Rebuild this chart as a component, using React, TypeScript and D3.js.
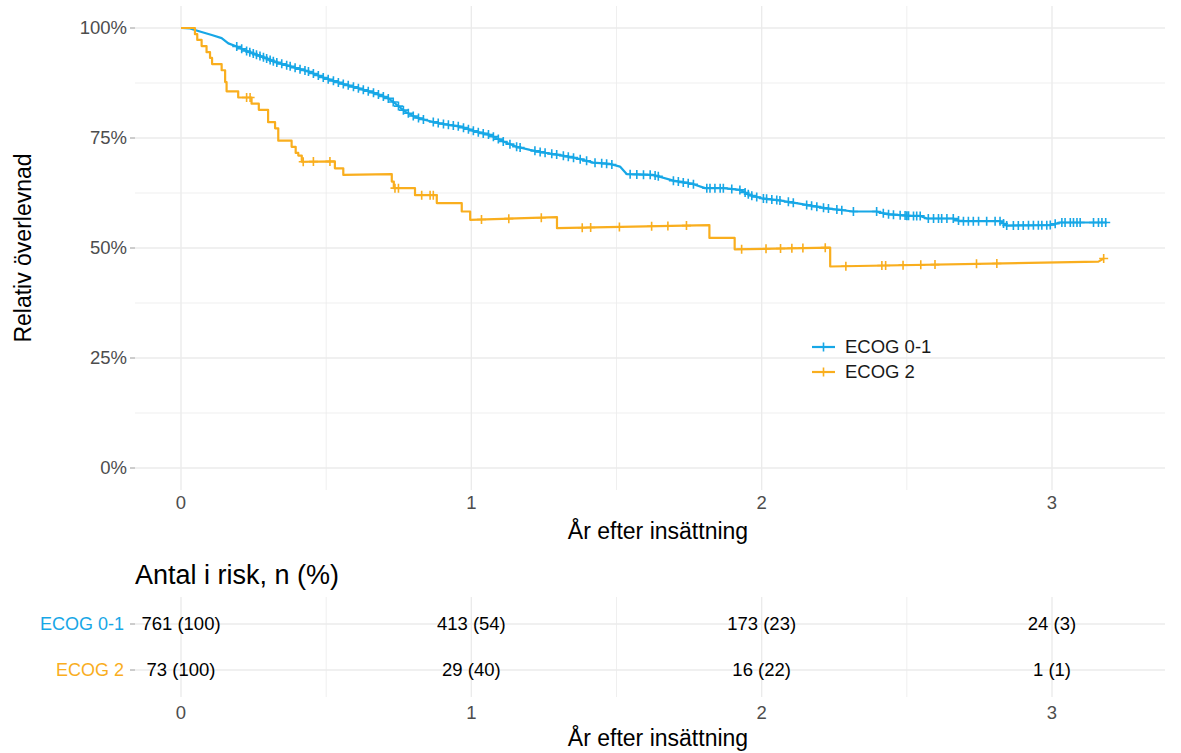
import React from "react";
import * as d3 from "d3";

// ---------- DATA ----------
const groups = ["ECOG 0-1", "ECOG 2"];
const groupColors = ["#17a7e6", "#f9ae1e"];

// ECOG 0-1 relative survival curve vertices (years, %)
const ecog01Time = [0, 0.031, 0.065, 0.106, 0.14, 0.163, 0.192, 0.232, 0.278, 0.324, 0.381, 0.439, 0.496, 0.553, 0.611, 0.668, 0.714, 0.737, 0.772, 0.806, 0.841, 0.892, 0.961, 1.018, 1.064, 1.11, 1.156, 1.202, 1.248, 1.306, 1.363, 1.42, 1.478, 1.512, 1.535, 1.627, 1.696, 1.765, 1.805, 1.868, 1.926, 1.96, 2.0, 2.063, 2.109, 2.155, 2.224, 2.316, 2.396, 2.431, 2.511, 2.546, 2.569, 2.66, 2.683, 2.821, 2.844, 2.993, 3.028, 3.189];
const ecog01Surv = [100, 99.9, 99.2, 98.4, 97.7, 96.5, 95.8, 94.6, 93.5, 92.3, 91.2, 90.1, 88.6, 87.4, 86.3, 85.2, 84.0, 82.9, 81.0, 79.8, 79.1, 78.3, 77.6, 76.4, 75.7, 74.2, 73.0, 72.3, 71.7, 71.1, 70.4, 69.4, 69.1, 68.5, 66.8, 66.6, 65.3, 64.5, 63.6, 63.6, 63.2, 62.0, 61.3, 60.8, 60.3, 59.8, 59.0, 58.3, 58.3, 57.7, 57.3, 57.3, 56.7, 56.7, 56.1, 56.1, 55.1, 55.2, 55.8, 55.8];
const ecog01Censor = [0.192, 0.209, 0.226, 0.237, 0.249, 0.26, 0.272, 0.284, 0.295, 0.307, 0.318, 0.33, 0.347, 0.364, 0.376, 0.393, 0.41, 0.427, 0.439, 0.456, 0.473, 0.49, 0.507, 0.525, 0.542, 0.559, 0.576, 0.594, 0.611, 0.628, 0.645, 0.663, 0.68, 0.697, 0.714, 0.731, 0.749, 0.766, 0.783, 0.8, 0.818, 0.835, 0.869, 0.886, 0.904, 0.921, 0.938, 0.955, 0.973, 0.99, 1.007, 1.024, 1.041, 1.059, 1.076, 1.093, 1.11, 1.133, 1.156, 1.168, 1.219, 1.237, 1.254, 1.277, 1.294, 1.317, 1.334, 1.352, 1.375, 1.397, 1.426, 1.449, 1.466, 1.484, 1.547, 1.57, 1.593, 1.616, 1.633, 1.644, 1.696, 1.713, 1.73, 1.747, 1.765, 1.811, 1.822, 1.839, 1.857, 1.868, 1.897, 1.925, 1.943, 1.954, 1.966, 1.983, 2.006, 2.017, 2.035, 2.052, 2.063, 2.092, 2.109, 2.155, 2.172, 2.19, 2.213, 2.23, 2.259, 2.276, 2.316, 2.396, 2.419, 2.437, 2.454, 2.477, 2.5, 2.494, 2.506, 2.523, 2.534, 2.546, 2.574, 2.592, 2.609, 2.62, 2.638, 2.66, 2.678, 2.695, 2.712, 2.729, 2.747, 2.775, 2.804, 2.821, 2.833, 2.844, 2.867, 2.884, 2.901, 2.919, 2.936, 2.953, 2.965, 2.982, 2.994, 3.011, 3.034, 3.045, 3.063, 3.074, 3.086, 3.097, 3.143, 3.16, 3.172, 3.185];

// ECOG 2 relative survival curve vertices (years, %)
const ecog2Time = [0, 0.048, 0.048, 0.056, 0.056, 0.071, 0.071, 0.088, 0.088, 0.1, 0.1, 0.107, 0.107, 0.14, 0.14, 0.152, 0.152, 0.157, 0.157, 0.197, 0.197, 0.243, 0.243, 0.268, 0.268, 0.3, 0.3, 0.324, 0.324, 0.335, 0.335, 0.381, 0.381, 0.395, 0.395, 0.404, 0.404, 0.416, 0.416, 0.53, 0.53, 0.559, 0.559, 0.726, 0.726, 0.733, 0.733, 0.806, 0.806, 0.881, 0.881, 0.967, 0.967, 0.996, 0.996, 1.295, 1.295, 1.82, 1.82, 1.907, 1.907, 2.236, 2.236, 3.16, 3.178];
const ecog2Surv = [100, 100, 98.6, 98.6, 97.3, 97.3, 95.9, 95.9, 94.5, 94.5, 93.2, 93.2, 91.8, 91.8, 90.4, 90.4, 87.7, 87.7, 85.6, 85.6, 84.2, 84.2, 82.8, 82.8, 81.4, 81.4, 78.6, 78.6, 77.2, 77.2, 74.4, 74.4, 73.0, 73.0, 71.6, 71.6, 71.0, 71.0, 69.6, 69.7, 68.1, 68.1, 66.6, 66.8, 65.1, 65.1, 63.6, 63.6, 62.0, 62.0, 60.2, 60.2, 58.3, 58.3, 56.4, 57.0, 54.5, 55.2, 52.3, 52.3, 49.7, 50.1, 45.8, 46.9, 47.6];
const ecog2Censor = [0.226, 0.238, 0.421, 0.456, 0.513, 0.737, 0.749, 0.829, 0.858, 0.869, 1.035, 1.129, 1.241, 1.382, 1.411, 1.51, 1.621, 1.677, 1.741, 1.931, 2.015, 2.065, 2.104, 2.142, 2.219, 2.29, 2.414, 2.427, 2.487, 2.548, 2.597, 2.74, 2.81, 3.178];

// Risk table
const riskTimes = [0, 1, 2, 3];
const ecog01Risk = ["761 (100)", "413 (54)", "173 (23)", "24 (3)"];
const ecog2Risk = ["73 (100)", "29 (40)", "16 (22)", "1 (1)"];

const xTicks = [0, 1, 2, 3];
const xMinor = [0.5, 1.5, 2.5];
const yTicks = [0, 25, 50, 75, 100];
const yMinor = [12.5, 37.5, 62.5, 87.5];

const W = 1181;
const H = 753;
const FONT = "'Liberation Sans', Arial, Helvetica, sans-serif";

function valueAt(times: number[], vals: number[], t: number): number {
  let i = 0;
  for (let k = 0; k < times.length; k++) {
    if (times[k] <= t) i = k;
  }
  if (i >= times.length - 1) return vals[vals.length - 1];
  const t0 = times[i], t1 = times[i + 1];
  if (t1 <= t0) return vals[i + 1];
  const f = (t - t0) / (t1 - t0);
  return vals[i] + f * (vals[i + 1] - vals[i]);
}

export default function App() {
  const panelL = 135, panelR = 1165;
  const x = d3.scaleLinear().domain([0, 3]).range([181, 1052]);
  const y = d3.scaleLinear().domain([0, 100]).range([468, 28]);
  const mainTop = 6, mainBot = 490;
  const tabTop = 597, tabBot = 697;
  const rowY = d3.scalePoint<string>().domain(groups).range([624, 670]);

  const line = d3.line<[number, number]>().x((d) => x(d[0])).y((d) => y(d[1]));
  const curves = [
    { t: ecog01Time, s: ecog01Surv, c: ecog01Censor },
    { t: ecog2Time, s: ecog2Surv, c: ecog2Censor },
  ];
  const gridColor = "#ebebeb";
  const plus = (cx: number, cy: number, r: number) =>
    `M${cx - r},${cy}H${cx + r}M${cx},${cy - r}V${cy + r}`;

  return (
    <svg width={W} height={H} style={{ position: "absolute", left: 0, top: 0, background: "#fff" }} fontFamily={FONT}>
      {/* main grid */}
      {yMinor.map((v) => (
        <line key={"ym" + v} x1={panelL} x2={panelR} y1={y(v)} y2={y(v)} stroke={gridColor} strokeWidth={0.8} />
      ))}
      {xMinor.map((v) => (
        <line key={"xm" + v} x1={x(v)} x2={x(v)} y1={mainTop} y2={mainBot} stroke={gridColor} strokeWidth={0.8} />
      ))}
      {yTicks.map((v) => (
        <line key={"yg" + v} x1={panelL} x2={panelR} y1={y(v)} y2={y(v)} stroke={gridColor} strokeWidth={1.4} />
      ))}
      {xTicks.map((v) => (
        <line key={"xg" + v} x1={x(v)} x2={x(v)} y1={mainTop} y2={mainBot} stroke={gridColor} strokeWidth={1.4} />
      ))}
      {/* y ticks + labels */}
      {yTicks.map((v) => (
        <g key={"yt" + v}>
          <line x1={130} x2={panelL} y1={y(v)} y2={y(v)} stroke="#9a9a9a" strokeWidth={1} />
          <text x={127} y={y(v)} dy="0.35em" textAnchor="end" fontSize={18.5} fill="#4d4d4d">
            {v + "%"}
          </text>
        </g>
      ))}
      {/* x tick labels */}
      {xTicks.map((v) => (
        <text key={"xt" + v} x={x(v)} y={503} dy="0.35em" textAnchor="middle" fontSize={18.5} fill="#4d4d4d">
          {v}
        </text>
      ))}
      <text x={658} y={531} dy="0.35em" textAnchor="middle" fontSize={23} fill="#000">
        År efter insättning
      </text>
      <text transform={`translate(23,248) rotate(-90)`} dy="0.35em" textAnchor="middle" fontSize={23} fill="#000">
        Relativ överlevnad
      </text>

      {/* curves */}
      {curves.map((cv, gi) => (
        <g key={"c" + gi}>
          <path
            d={line(cv.t.map((t, i) => [t, cv.s[i]] as [number, number])) || ""}
            fill="none"
            stroke={groupColors[gi]}
            strokeWidth={2.2}
            strokeLinejoin="round"
          />
          <path
            d={cv.c.map((t) => plus(x(t), y(valueAt(cv.t, cv.s, t)), 4.5)).join("")}
            fill="none"
            stroke={groupColors[gi]}
            strokeWidth={1.6}
          />
        </g>
      ))}

      {/* legend */}
      {groups.map((g, gi) => {
        const ly = 347 + gi * 25;
        return (
          <g key={"lg" + g}>
            <line x1={812} x2={835} y1={ly} y2={ly} stroke={groupColors[gi]} strokeWidth={2.2} />
            <path d={plus(823.5, ly, 4.5)} stroke={groupColors[gi]} strokeWidth={1.6} />
            <text x={845} y={ly} dy="0.35em" fontSize={18.5} fill="#1a1a1a">
              {g}
            </text>
          </g>
        );
      })}

      {/* risk table */}
      <text x={135} y={575} dy="0.35em" fontSize={27} fill="#000">
        Antal i risk, n (%)
      </text>
      {xMinor.map((v) => (
        <line key={"txm" + v} x1={x(v)} x2={x(v)} y1={tabTop} y2={tabBot} stroke={gridColor} strokeWidth={0.8} />
      ))}
      {xTicks.map((v) => (
        <line key={"txg" + v} x1={x(v)} x2={x(v)} y1={tabTop} y2={tabBot} stroke={gridColor} strokeWidth={1.4} />
      ))}
      {groups.map((g, gi) => (
        <g key={"tr" + g}>
          <line x1={panelL} x2={panelR} y1={rowY(g)} y2={rowY(g)} stroke={gridColor} strokeWidth={1.4} />
          <line x1={130} x2={panelL} y1={rowY(g)} y2={rowY(g)} stroke="#9a9a9a" strokeWidth={1} />
          <text x={124} y={rowY(g)} dy="0.35em" textAnchor="end" fontSize={18} fill={groupColors[gi]}>
            {g}
          </text>
          {(gi === 0 ? ecog01Risk : ecog2Risk).map((lab, i) => (
            <text key={i} x={x(riskTimes[i])} y={rowY(g)} dy="0.35em" textAnchor="middle" fontSize={18.5} fill="#000">
              {lab}
            </text>
          ))}
        </g>
      ))}
      {xTicks.map((v) => (
        <text key={"txt" + v} x={x(v)} y={713} dy="0.35em" textAnchor="middle" fontSize={18.5} fill="#4d4d4d">
          {v}
        </text>
      ))}
      <text x={658} y={738} dy="0.35em" textAnchor="middle" fontSize={23} fill="#000">
        År efter insättning
      </text>
    </svg>
  );
}
